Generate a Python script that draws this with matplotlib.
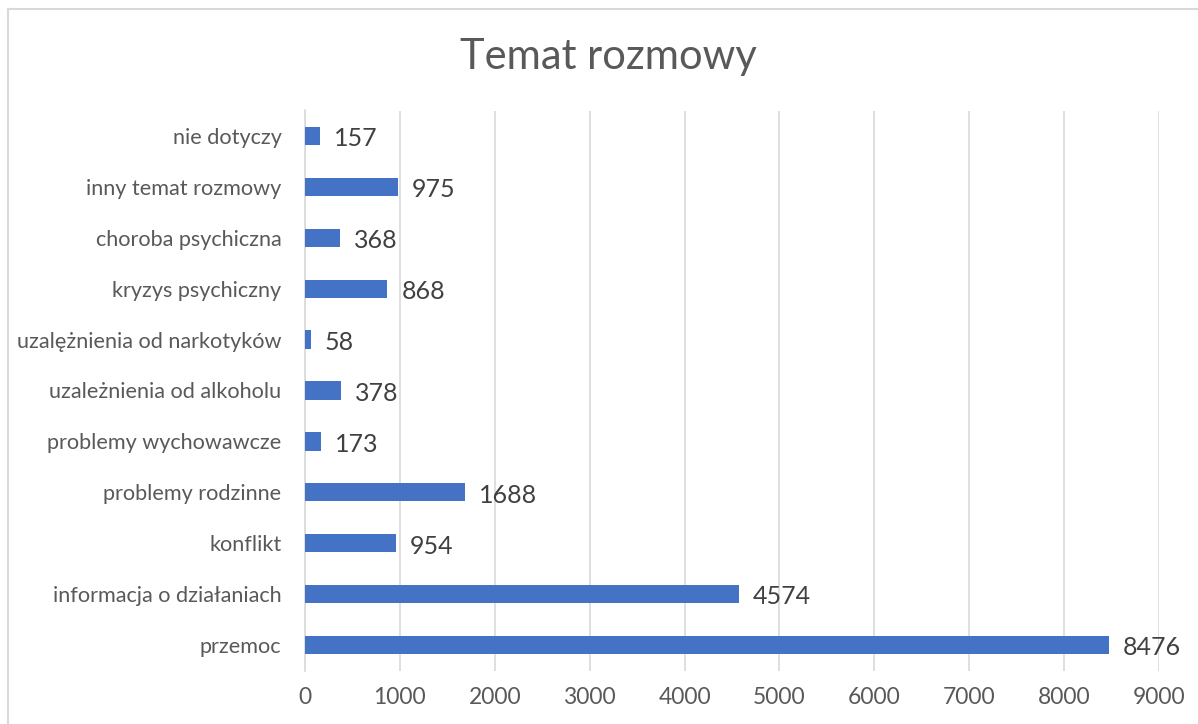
import matplotlib
matplotlib.use("Agg")
import matplotlib.pyplot as plt
from matplotlib.lines import Line2D

categories = ["przemoc", "informacja o działaniach", "konflikt", "problemy rodzinne",
              "problemy wychowawcze", "uzależnienia od alkoholu", "uzalężnienia od narkotyków",
              "kryzys psychiczny", "choroba psychiczna", "inny temat rozmowy", "nie dotyczy"]
values = [8476, 4574, 954, 1688, 173, 378, 58, 868, 368, 975, 157]
xticks = [0, 1000, 2000, 3000, 4000, 5000, 6000, 7000, 8000, 9000]

plt.rcParams['font.family'] = ['Lato', 'DejaVu Sans']

W, H = 1198, 724
fig = plt.figure(figsize=(W/100, H/100), dpi=100)
fig.lines.append(Line2D([7.5/W, 7.5/W], [0, 1 - 9/H], transform=fig.transFigure,
                        color="#d9d9d9", linewidth=1.5))
fig.lines.append(Line2D([7.5/W, 1], [1 - 9/H, 1 - 9/H], transform=fig.transFigure,
                        color="#d9d9d9", linewidth=1.5))

ax = fig.add_axes([305/W, 1 - 670.5/H, (1159-305)/W, (670.5-110.5)/H])
y = list(range(len(categories)))
bars = ax.barh(y, values, height=0.36, color="#4472C4", zorder=3)
ax.set_ylim(-0.5, len(categories) - 0.5)
ax.set_xlim(0, 9000)
ax.set_xticks(xticks)
ax.set_xticklabels([str(t) for t in xticks], fontsize=16.5, color="#595959")
ax.set_yticks(y)
ax.set_yticklabels(categories, fontsize=15.6, color="#595959")
ax.tick_params(axis="x", length=0, pad=12)
ax.tick_params(axis="y", length=0, pad=17)
ax.grid(axis="x", color="#d9d9d9", linewidth=1.2, zorder=0)
for s in ["top", "right", "bottom"]:
    ax.spines[s].set_visible(False)
ax.spines["left"].set_color("#d9d9d9")
ax.spines["left"].set_linewidth(1.2)

for b, v in zip(bars, values):
    ax.annotate(str(v), (b.get_width(), b.get_y() + b.get_height()/2),
                xytext=(10, -2), textcoords="offset points", va="center", ha="left",
                fontsize=18, color="#404040")

fig.text(608/W, 1 - 57/H, "Temat rozmowy", ha="center", va="center", fontsize=30, color="#595959")

fig.savefig("out.png", dpi=100)
